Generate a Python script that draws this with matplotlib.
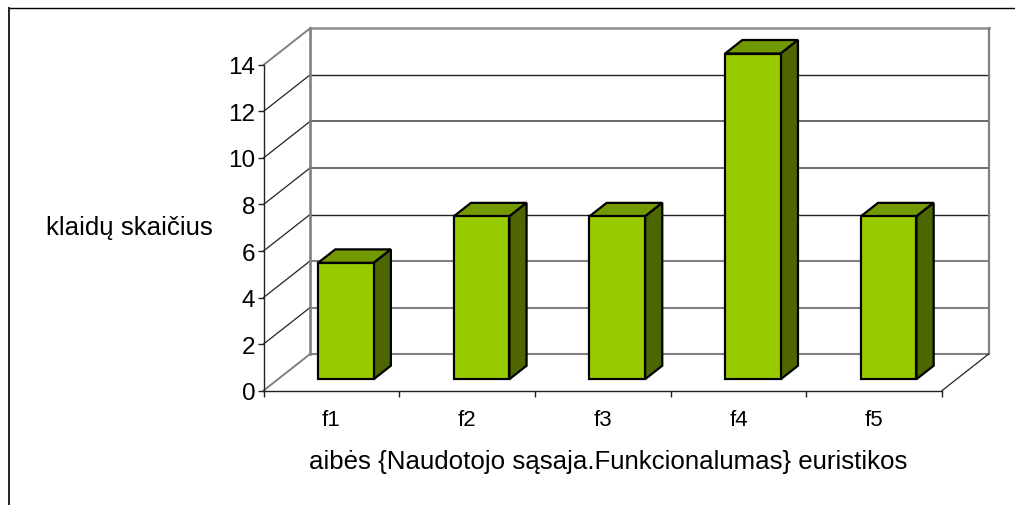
import matplotlib
matplotlib.use('Agg')
import matplotlib.pyplot as plt
from matplotlib.lines import Line2D
from matplotlib.patches import Polygon

categories = ['f1', 'f2', 'f3', 'f4', 'f5']
values = [5, 7, 7, 14, 7]
y_ticks = [0, 2, 4, 6, 8, 10, 12, 14]
x_label = 'aibės {Naudotojo sąsaja.Funkcionalumas} euristikos'
y_label = 'klaidų skaičius'

W, H = 1015, 506
plt.rcParams['font.family'] = ['Liberation Sans', 'DejaVu Sans']

fig = plt.figure(figsize=(W / 100, H / 100), dpi=100)

# rama: tik virsus ir kaire puse
fig.add_artist(Line2D([9 / W, 1], [1 - 8.5 / H, 1 - 8.5 / H], transform=fig.transFigure, color='black', lw=1))
fig.add_artist(Line2D([9 / W, 9 / W], [0, 1 - 8.5 / H], transform=fig.transFigure, color='#222222', lw=1.4))

# axes = priekine grindu briauna
left, right, bottom, top = 263.5, 942, 391.6, 65.9
ax = fig.add_axes([left / W, 1 - bottom / H, (right - left) / W, (bottom - top) / H])
ax.set_xlim(0, len(categories))
ax.set_ylim(0, 14)
ax.patch.set_visible(False)
for s in ['top', 'right']:
    ax.spines[s].set_visible(False)
for s in ['left', 'bottom']:
    ax.spines[s].set_linewidth(1)
    ax.spines[s].set_color('#222222')

# 3D gylis duomenu vienetais
depth_x = 46.5 / ((right - left) / len(categories))
depth_y = 36.5 / ((bottom - top) / 14)


def p(x, y, d):
    return (x + depth_x * d, y + depth_y * d)


# siena ir grindys
grid_colors = ['#808080', '#808080', '#808080', '#222222', '#444444', '#666666', '#222222', '#909090']
grid_widths = [1.5, 1.5, 1.5, 1, 1.1, 1.4, 1, 1.8]
side_colors = ['#808080', '#222222', '#222222', '#222222', '#222222', '#222222', '#222222', '#808080']
n = len(categories)
for v, gc, gw, sc in zip(y_ticks, grid_colors, grid_widths, side_colors):
    ax.plot(*zip(p(0, v, 1), p(n, v, 1)), color=gc, lw=gw, clip_on=False, zorder=1)
    ax.plot(*zip(p(0, v, 0), p(0, v, 1)), color=sc, lw=1.4 if sc == '#808080' else 0.9, clip_on=False, zorder=1)
ax.plot(*zip(p(0, 0, 1), p(0, 14, 1)), color='#808080', lw=1.9, clip_on=False, zorder=1)
ax.plot(*zip(p(n, 0, 1), p(n, 14, 1)), color='#808080', lw=1.6, clip_on=False, zorder=1)
ax.plot(*zip(p(n, 0, 0), p(n, 0, 1)), color='#222222', lw=0.9, clip_on=False, zorder=1)

# stulpeliai
bar_w = 0.41
d0, d1 = 0.312, 0.682
for i, v in enumerate(values):
    x0 = i + 0.5 - bar_w / 2
    x1 = i + 0.5 + bar_w / 2
    top_face = [p(x0, v, d0), p(x1, v, d0), p(x1, v, d1), p(x0, v, d1)]
    side_face = [p(x1, 0, d0), p(x1, 0, d1), p(x1, v, d1), p(x1, v, d0)]
    front_face = [p(x0, 0, d0), p(x1, 0, d0), p(x1, v, d0), p(x0, v, d0)]
    for pts, col in [(top_face, '#739900'), (side_face, '#4D6600'), (front_face, '#99CC00')]:
        ax.add_patch(Polygon(pts, closed=True, fc=col, ec='black', lw=1.6,
                             joinstyle='miter', clip_on=False, zorder=3))

ax.set_xticks(range(n + 1))
ax.set_xticklabels([])
ax.set_xticks([i + 0.5 for i in range(n)], minor=True)
ax.set_xticklabels(categories, minor=True, fontsize=16)
ax.set_yticks(y_ticks)
ax.tick_params(axis='x', which='major', length=4, width=1, color='#222222')
ax.tick_params(axis='x', which='minor', length=0, pad=13)
ax.tick_params(axis='y', length=4, width=1, color='#222222', labelsize=17.5, pad=2)

fig.text(608 / W, 1 - 462 / H, x_label, fontsize=18.6, ha='center', va='center')
fig.text(129 / W, 1 - 228 / H, y_label, fontsize=18.6, ha='center', va='center')

fig.savefig('out.png', dpi=100)
